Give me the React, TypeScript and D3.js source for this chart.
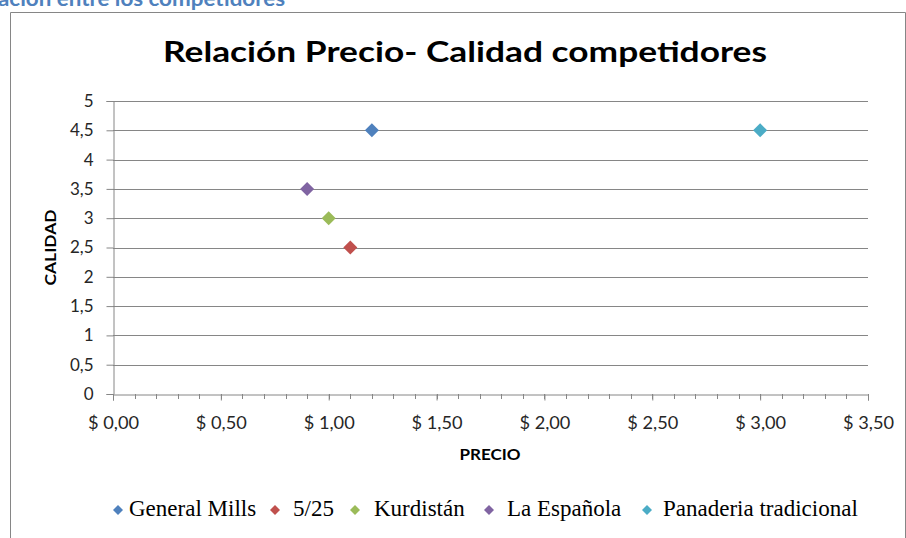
import React, { useRef, useEffect } from "react";
import * as d3 from "d3";

const companies = ["General Mills", "5/25", "Kurdistán", "La Española", "Panaderia tradicional"];
const precios = [1.2, 1.1, 1.0, 0.9, 3.0];
const calidades = [4.5, 2.5, 3.0, 3.5, 4.5];
const colors = ["#4F81BD", "#C0504D", "#9BBB59", "#8064A2", "#4BACC6"];
const xTicks = [0, 0.5, 1, 1.5, 2, 2.5, 3, 3.5];
const yTicks = [0, 0.5, 1, 1.5, 2, 2.5, 3, 3.5, 4, 4.5, 5];

const W = 906;
const H = 538;

export default function App() {
    const svgRef = useRef<SVGSVGElement>(null);

    useEffect(() => {
        if (!svgRef.current) return;
        const svg = d3.select(svgRef.current);
        svg.selectAll("*").remove();

        const plot = { left: 113, right: 868, top: 101, bottom: 394 };
        const axisColor = "#868686";
        const labelFont = "Lato, 'Open Sans', sans-serif";

        svg.append("rect").attr("width", W).attr("height", H).attr("fill", "#fff");

        // heading text cut off at the top of the page
        svg.append("text")
            .attr("x", -2)
            .attr("y", 6)
            .attr("font-family", labelFont)
            .attr("font-weight", "bold")
            .attr("font-size", 21)
            .attr("textLength", 287)
            .attr("lengthAdjust", "spacingAndGlyphs")
            .attr("fill", "#4F81BD")
            .text("ación entre los competidores");

        // chart frame
        svg.append("path")
            .attr("d", `M10.5,${H} V12.5 H905.5 V${H}`)
            .attr("fill", "none")
            .attr("stroke", axisColor)
            .attr("stroke-width", 1);

        svg.append("text")
            .attr("x", 465)
            .attr("y", 62)
            .attr("text-anchor", "middle")
            .attr("font-family", labelFont)
            .attr("font-weight", "bold")
            .attr("font-size", 28)
            .attr("textLength", 604)
            .attr("lengthAdjust", "spacingAndGlyphs")
            .attr("fill", "#000")
            .text("Relación Precio- Calidad competidores");

        const x = d3.scaleLinear().domain([0, 3.5]).range([plot.left, plot.right]);
        const y = d3.scaleLinear().domain([0, 5]).range([plot.bottom, plot.top]);

        const fmt = (v: number) => v.toString().replace(".", ",");
        const money = (v: number) => "$ " + v.toFixed(2).replace(".", ",");

        // gridlines
        svg.append("g")
            .selectAll("line")
            .data(yTicks.filter(d => d > 0))
            .join("line")
            .attr("x1", plot.left)
            .attr("x2", plot.right)
            .attr("y1", d => Math.round(y(d)) + 0.5)
            .attr("y2", d => Math.round(y(d)) + 0.5)
            .attr("stroke", axisColor);

        // y axis
        const yAxis = svg.append("g")
            .attr("transform", `translate(${plot.left + 0.5},0)`)
            .call(d3.axisLeft(y).tickValues(yTicks).tickSize(7).tickPadding(13).tickFormat(d => fmt(+d)));
        yAxis.select(".domain").attr("stroke", axisColor);
        yAxis.selectAll(".tick line").attr("stroke", axisColor);
        yAxis.selectAll(".tick text")
            .attr("font-family", labelFont)
            .attr("font-size", 17)
            .attr("fill", "#262626");

        // x axis with minor ticks
        const minor = d3.range(0, 36).map(i => i / 10);
        svg.append("g")
            .selectAll("line")
            .data(minor)
            .join("line")
            .attr("x1", d => Math.round(x(d)) + 0.5)
            .attr("x2", d => Math.round(x(d)) + 0.5)
            .attr("y1", plot.bottom)
            .attr("y2", plot.bottom + 5)
            .attr("stroke", axisColor);

        const xAxis = svg.append("g")
            .attr("transform", `translate(0,${plot.bottom + 0.5})`)
            .call(d3.axisBottom(x).tickValues(xTicks).tickSize(6).tickPadding(16).tickFormat(d => money(+d)));
        xAxis.select(".domain").attr("stroke", axisColor);
        xAxis.selectAll(".tick line").attr("stroke", axisColor);
        xAxis.selectAll(".tick text")
            .attr("font-family", labelFont)
            .attr("font-size", 17)
            .attr("textLength", 51)
            .attr("lengthAdjust", "spacingAndGlyphs")
            .attr("fill", "#262626");

        // axis titles
        svg.append("text")
            .attr("transform", `translate(56,${(plot.top + plot.bottom) / 2}) rotate(-90)`)
            .attr("text-anchor", "middle")
            .attr("font-family", labelFont)
            .attr("font-weight", "bold")
            .attr("font-size", 15)
            .attr("textLength", 76)
            .attr("lengthAdjust", "spacingAndGlyphs")
            .text("CALIDAD");

        svg.append("text")
            .attr("x", 490)
            .attr("y", 460)
            .attr("text-anchor", "middle")
            .attr("font-family", labelFont)
            .attr("font-weight", "bold")
            .attr("font-size", 15)
            .attr("textLength", 61)
            .attr("lengthAdjust", "spacingAndGlyphs")
            .text("PRECIO");

        // points
        const diamond = d3.symbol().type(d3.symbolSquare).size(98);
        svg.append("g")
            .selectAll("path")
            .data(companies.map((c, i) => ({ c, i })))
            .join("path")
            .attr("d", diamond)
            .attr("transform", d => `translate(${x(precios[d.i])},${y(calidades[d.i])}) rotate(45)`)
            .attr("fill", d => colors[d.i]);

        // legend
        const legendSymX = [118, 275, 355, 489, 647];
        const legendTextX = [129, 293, 374, 507, 663];
        const legendSym = d3.symbol().type(d3.symbolSquare).size(50);
        const legend = svg.append("g");
        companies.forEach((c, i) => {
            legend.append("path")
                .attr("d", legendSym)
                .attr("transform", `translate(${legendSymX[i]},510) rotate(45)`)
                .attr("fill", colors[i]);
            legend.append("text")
                .attr("x", legendTextX[i])
                .attr("y", 516)
                .attr("font-family", "'Liberation Serif', 'Times New Roman', serif")
                .attr("font-size", 23)
                .attr("fill", "#000")
                .text(c);
        });
    }, []);

    return (
        <svg
            ref={svgRef}
            width={W}
            height={H}
            style={{ position: "absolute", left: 0, top: 0 }}
        />
    );
}
